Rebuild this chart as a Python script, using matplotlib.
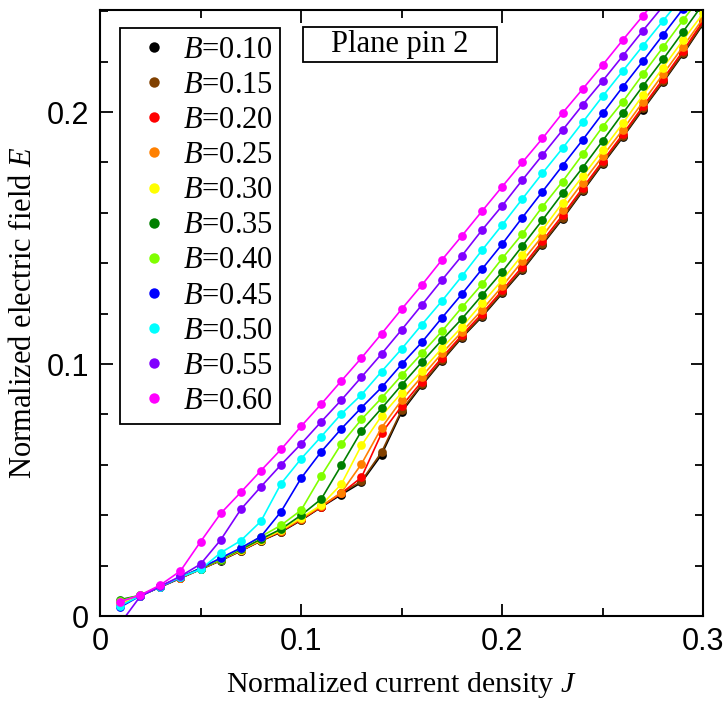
import numpy as np
import matplotlib.pyplot as plt
from matplotlib.lines import Line2D
from matplotlib.patches import Rectangle
from matplotlib.ticker import MultipleLocator

plt.rcParams['font.family'] = ['Liberation Serif', 'DejaVu Serif']
plt.rcParams['mathtext.fontset'] = 'custom'
plt.rcParams['mathtext.it'] = 'Liberation Serif:italic'
plt.rcParams['mathtext.rm'] = 'Liberation Serif'

J = [0.01, 0.02, 0.03, 0.04, 0.05, 0.06, 0.07, 0.08, 0.09, 0.10,
     0.11, 0.12, 0.13, 0.14, 0.15, 0.16, 0.17, 0.18, 0.19, 0.20,
     0.21, 0.22, 0.23, 0.24, 0.25, 0.26, 0.27, 0.28, 0.29, 0.30]

B_values = ['0.10', '0.15', '0.20', '0.25', '0.30', '0.35', '0.40', '0.45', '0.50', '0.55', '0.60']
colors = ['#000000', '#804000', '#ff0000', '#ff8000', '#ffff00', '#008000',
          '#80ff00', '#0000ff', '#00ffff', '#8000ff', '#ff00ff']

E_010 = [.0050, .0080, .0115, .0150, .0185, .0220, .0258, .0298, .0333, .0380,
         .0432, .0482, .0530, .0640, .0810, .0915, .1012, .1105, .1188, .1280,
         .1372, .1474, .1576, .1685, .1794, .1900, .2010, .2118, .2230, .2350]
E_015 = [.0055, .0080, .0116, .0151, .0186, .0221, .0259, .0299, .0335, .0382,
         .0434, .0488, .0535, .0650, .0817, .0920, .1016, .1108, .1192, .1284,
         .1376, .1478, .1580, .1689, .1798, .1904, .2014, .2122, .2234, .2354]
E_020 = [.0050, .0081, .0117, .0152, .0187, .0222, .0260, .0300, .0336, .0383,
         .0434, .0487, .0550, .0725, .0833, .0930, .1025, .1115, .1200, .1292,
         .1386, .1488, .1590, .1698, .1806, .1912, .2022, .2131, .2243, .2362]
E_025 = [.0055, .0081, .0117, .0152, .0187, .0223, .0261, .0301, .0338, .0385,
         .0436, .0490, .0603, .0747, .0857, .0950, .1042, .1128, .1215, .1308,
         .1408, .1507, .1613, .1720, .1825, .1930, .2040, .2150, .2260, .2372]
E_030 = [.0050, .0081, .0117, .0153, .0188, .0223, .0262, .0302, .0340, .0390,
         .0440, .0523, .0677, .0794, .0886, .0972, .1062, .1148, .1241, .1333,
         .1433, .1532, .1640, .1745, .1849, .1955, .2067, .2176, .2286, .2392]
E_035 = [.0065, .0082, .0118, .0153, .0188, .0224, .0264, .0305, .0345, .0400,
         .0464, .0598, .0734, .0824, .0917, .1007, .1095, .1180, .1273, .1366,
         .1468, .1571, .1677, .1779, .1886, .1995, .2103, .2209, .2319, .2430]
E_040 = [.0060, .0082, .0118, .0154, .0190, .0226, .0268, .0315, .0360, .0420,
         .0556, .0683, .0780, .0865, .0955, .1042, .1130, .1225, .1317, .1419,
         .1516, .1624, .1724, .1832, .1942, .2041, .2150, .2257, .2365, .2470]
E_045 = [.0035, .0080, .0116, .0153, .0190, .0230, .0270, .0315, .0414, .0547,
         .0652, .0743, .0827, .0907, .0999, .1086, .1183, .1278, .1377, .1476,
         .1581, .1684, .1787, .1889, .1995, .2100, .2202, .2306, .2410, .2520]
E_050 = [.0040, .0081, .0117, .0154, .0185, .0251, .0299, .0376, .0525, .0624,
         .0712, .0802, .0878, .0970, .1060, .1156, .1250, .1349, .1452, .1552,
         .1655, .1757, .1856, .1959, .2063, .2163, .2263, .2362, .2460, .2560]
E_055 = [-.0030, .0078, .0118, .0158, .0206, .0302, .0423, .0513, .0600, .0683,
         .0771, .0857, .0948, .1040, .1136, .1234, .1333, .1430, .1532, .1628,
         .1730, .1829, .1928, .2028, .2124, .2223, .2323, .2420, .2520, .2620]
E_060 = [.0057, .0083, .0123, .0179, .0295, .0407, .0491, .0577, .0661, .0753,
         .0841, .0933, .1024, .1120, .1218, .1313, .1413, .1509, .1607, .1704,
         .1800, .1895, .1996, .2091, .2187, .2286, .2382, .2480, .2580, .2680]

series = [E_010, E_015, E_020, E_025, E_030, E_035, E_040, E_045, E_050, E_055, E_060]

fig = plt.figure(figsize=(7.25, 7.02), dpi=100)
ax = fig.add_axes([0.138, 0.1225, 0.832, 0.8633])

for E, c in zip(series, colors):
    ax.plot(J, E, '-o', color=c, lw=1.2, markersize=6.3, markeredgewidth=0)

ax.set_xlim(0, 0.3)
ax.set_ylim(0, 0.2405)
ax.xaxis.set_minor_locator(MultipleLocator(0.05))
ax.yaxis.set_minor_locator(MultipleLocator(0.02))
ax.set_xticks([0, 0.1, 0.2, 0.3])
ax.set_xticklabels(['0', '0.1', '0.2', '0.3'])
ax.set_yticks([0, 0.1, 0.2])
ax.set_yticklabels(['0', '0.1', '0.2'])
ax.tick_params(which='both', direction='in', top=True, right=True, width=1.3)
ax.tick_params(which='major', length=9, pad=8, labelsize=22)
ax.tick_params(which='minor', length=6)
for lab in ax.get_xticklabels() + ax.get_yticklabels():
    lab.set_family('Liberation Sans')
for s in ax.spines.values():
    s.set_linewidth(1.5)

ax.set_xlabel(r'Normalized current density $J$', fontsize=21.5, labelpad=9)
ax.set_ylabel(r'Normalized electric field $E$', fontsize=22, labelpad=6)

handles = [Line2D([], [], ls='none', marker='o', color=c, markersize=7.5, markeredgewidth=0)
           for c in colors]
labels = [r'$B$=' + b for b in B_values]
leg = ax.legend(handles, labels, loc='upper left', bbox_to_anchor=(0.033, 0.97),
                borderaxespad=0, fontsize=22, frameon=True, fancybox=False,
                labelspacing=0.2, handlelength=1.7, handletextpad=0.1,
                borderpad=0.25, framealpha=1)
leg.get_frame().set_edgecolor('black')
leg.get_frame().set_linewidth(1.3)

ax.add_patch(Rectangle((0.337, 0.914), 0.321, 0.058, transform=ax.transAxes,
                       fc='white', ec='black', lw=1.3, zorder=5))
ax.text(0.4975, 0.943, 'Plane pin 2', transform=ax.transAxes, fontsize=22,
        ha='center', va='center', zorder=6)

fig.savefig('out.png', dpi=100)
